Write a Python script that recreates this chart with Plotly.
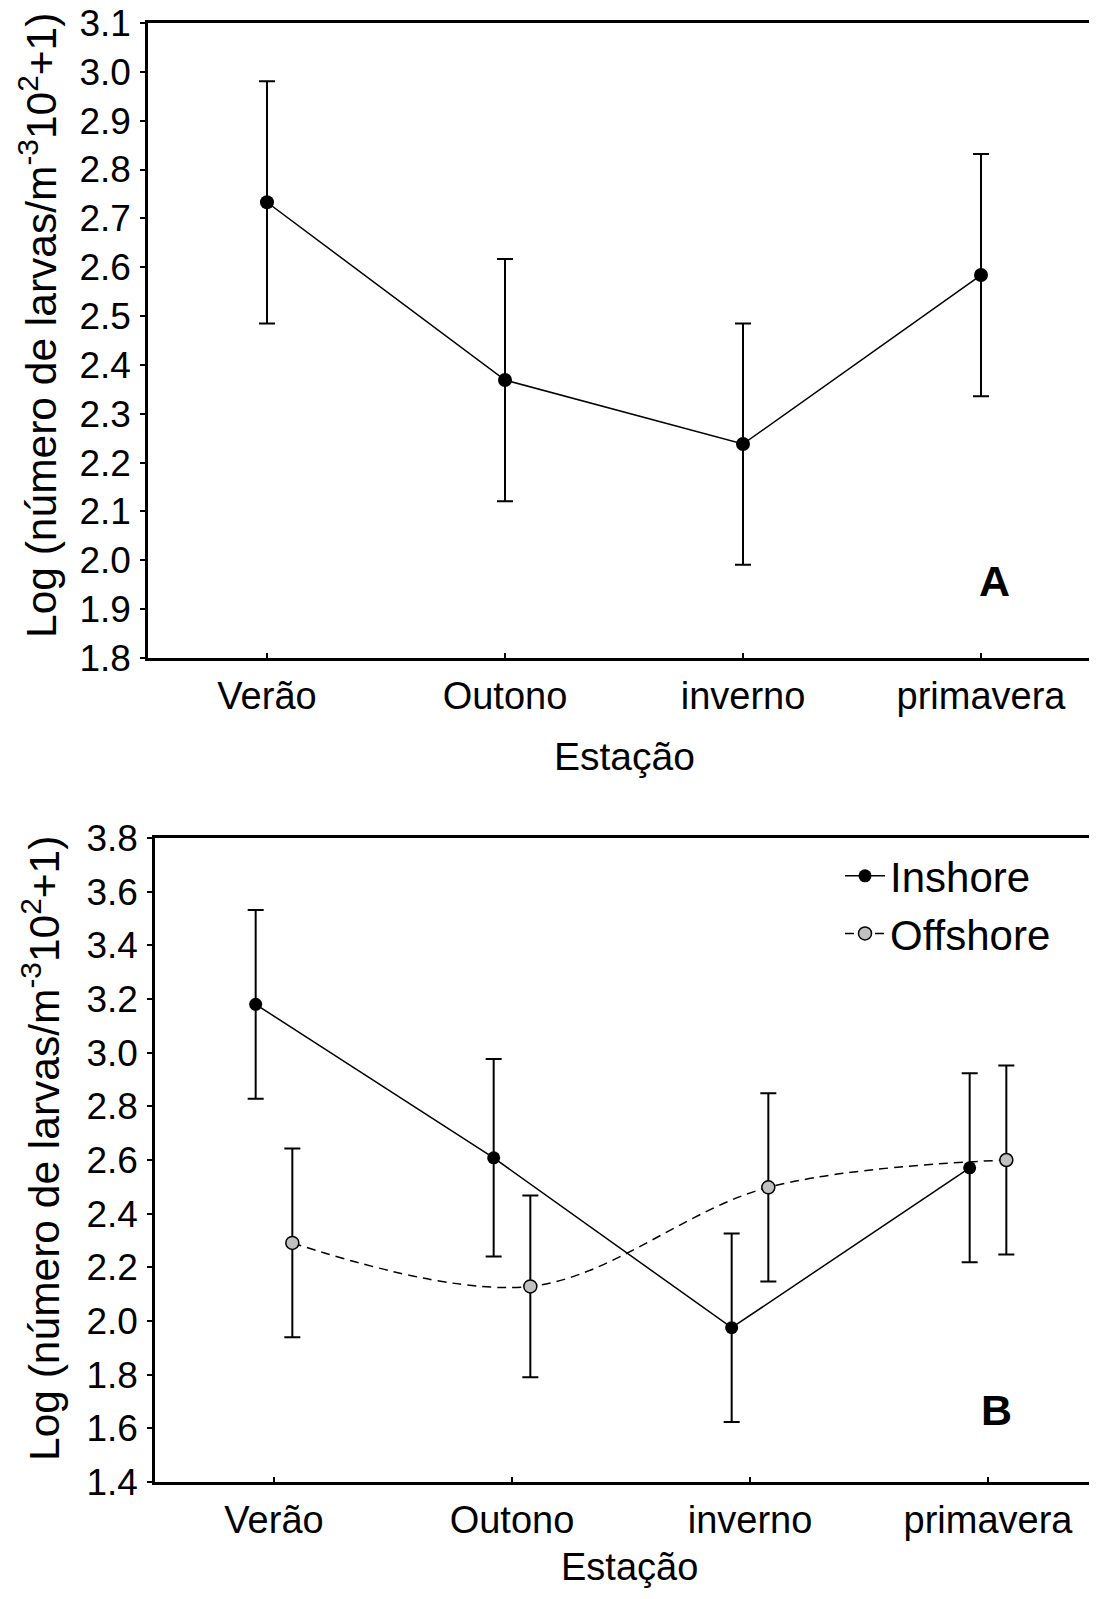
import plotly.graph_objects as go

# estações do ano (eixo x)
seasons = ["Verão", "Outono", "inverno", "primavera"]

# painel A: média geral e erro
mean_a = [2.733, 2.369, 2.238, 2.584]
err_a = [0.248, 0.248, 0.247, 0.248]

# painel B: inshore x offshore
mean_in = [3.180, 2.608, 1.975, 2.571]
err_in = [0.352, 0.368, 0.351, 0.352]
mean_off = [2.291, 2.129, 2.498, 2.600]
err_off = [0.352, 0.339, 0.351, 0.352]

# the page body has an 8px margin, so the figure is 16px smaller than the window
W, H = 1081, 1583
M = 8
FONT = "Liberation Sans, Arial, sans-serif"
off = 0.077
xs = list(range(len(seasons)))


def px(x):
    return (x - M) / W


def py(y):
    return 1 - (y - M) / H


fig = go.Figure()

fig.add_trace(go.Scatter(
    x=xs, y=mean_a, mode="lines+markers", showlegend=False,
    line=dict(color="black", width=1.5),
    marker=dict(color="black", size=14),
    error_y=dict(type="data", array=err_a, color="black", thickness=2, width=8),
    xaxis="x", yaxis="y"))

fig.add_trace(go.Scatter(
    x=[v - off for v in xs], y=mean_in, mode="lines+markers", name="Inshore",
    line=dict(color="black", width=1.5),
    marker=dict(color="black", size=13),
    error_y=dict(type="data", array=err_in, color="black", thickness=2, width=8),
    xaxis="x2", yaxis="y2"))

fig.add_trace(go.Scatter(
    x=[v + off for v in xs], y=mean_off, mode="lines+markers", name="Offshore",
    line=dict(color="black", width=1.5, dash="9px,6px", shape="spline"),
    marker=dict(color="#c0c0c0", size=13, line=dict(color="black", width=1.5)),
    error_y=dict(type="data", array=err_off, color="black", thickness=2, width=8),
    xaxis="x2", yaxis="y2"))

xcommon = dict(tickvals=xs, ticktext=seasons, ticks="inside", ticklen=5, tickwidth=1.5,
               tickcolor="black", showline=True, linewidth=2.5, linecolor="black",
               mirror=True, showgrid=False, zeroline=False, automargin=False,
               tickfont=dict(size=38, color="black"), ticklabelstandoff=3)
ycommon = dict(ticks="outside", ticklen=5, tickwidth=1.5, tickcolor="black",
               showline=True, linewidth=2.5, linecolor="black", showgrid=False,
               zeroline=False, automargin=False, tickfont=dict(size=37, color="black"),
               tickformat=".1f", ticklabelstandoff=2, ticklabeloverflow="allow")

# 238px per category step
fig.update_layout(
    width=W, height=H,
    margin=dict(l=0, r=0, t=0, b=0),
    paper_bgcolor="white", plot_bgcolor="white",
    font=dict(family=FONT, color="black"),
    xaxis=dict(domain=[px(148), 1], range=[-0.5, -0.5 + (W + M - 148) / 238],
               anchor="y", **xcommon),
    yaxis=dict(domain=[py(658), py(23)], range=[1.8, 3.1], dtick=0.1,
               anchor="x", **ycommon),
    xaxis2=dict(domain=[px(155), 1], range=[-0.5, -0.5 + (W + M - 155) / 238],
                anchor="y2", **xcommon),
    yaxis2=dict(domain=[py(1482), py(838)], range=[1.4, 3.8], dtick=0.2,
                anchor="x2", **ycommon),
    legend=dict(x=px(840), y=py(842), xanchor="left", yanchor="top",
                font=dict(size=42, color="black"), bgcolor="rgba(0,0,0,0)",
                itemwidth=40),
)

ytitle = "Log (número de larvas/m<sup>-3</sup>10<sup>2</sup>+1)"
annots = [
    dict(text=ytitle, x=px(38), y=py(326), textangle=-90, font=dict(size=42.5)),
    dict(text=ytitle, x=px(41), y=py(1149), textangle=-90, font=dict(size=42.5)),
    dict(text="Estação", x=px(624), y=py(757), font=dict(size=39)),
    dict(text="Estação", x=px(629), y=py(1567), font=dict(size=38)),
    dict(text="<b>A</b>", x=px(994), y=py(581), font=dict(size=43)),
    dict(text="<b>B</b>", x=px(996), y=py(1410), font=dict(size=43)),
]
for a in annots:
    fig.add_annotation(xref="paper", yref="paper", showarrow=False,
                       xanchor="center", yanchor="middle", **a)

fig.write_html("out.html")
